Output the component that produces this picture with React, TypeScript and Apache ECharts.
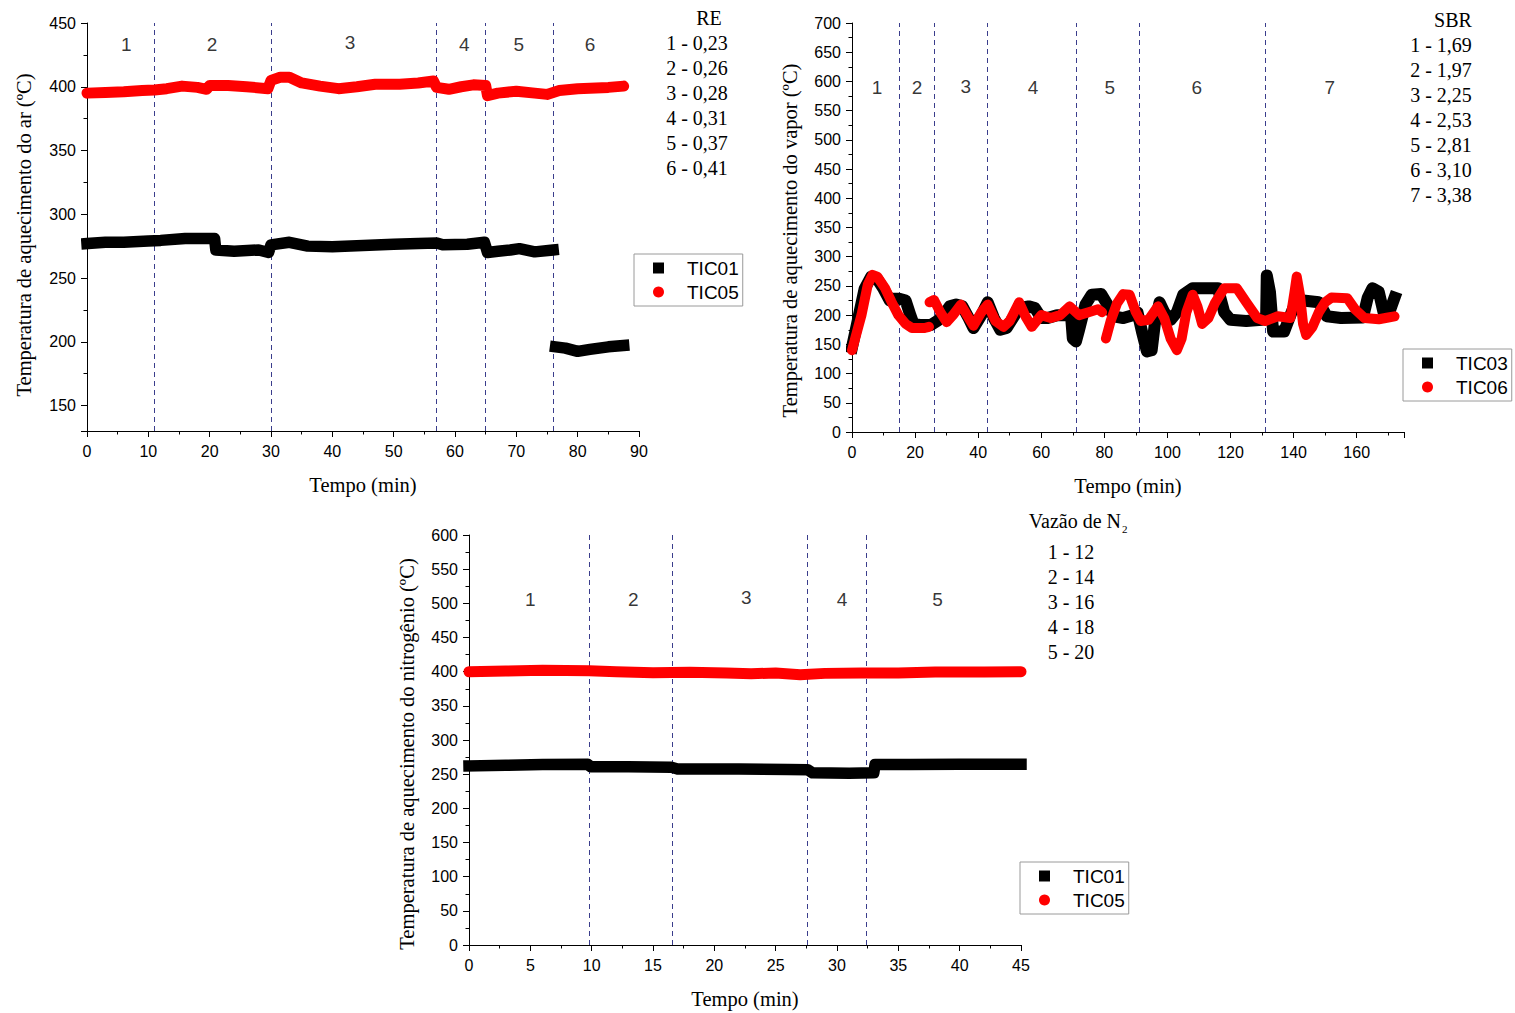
import React, { useEffect, useRef } from 'react';
import * as echarts from 'echarts';

// ---------- Chart 1: Temperatura de aquecimento do ar ----------
const arTIC01: [number, number | null][] = [
  [0, 277], [3, 278], [6, 278], [10, 279], [12, 279.5], [16, 281], [20.8, 281], [21, 272], [24, 271],
  [28, 272], [29.6, 270], [30, 276], [33, 278], [36, 275], [40, 274.5], [45, 275.5], [50, 276.5],
  [54, 277], [57, 277.5], [58, 276], [62, 276.5], [64.8, 278], [65.3, 270], [67, 271], [69, 272],
  [70.5, 273], [73, 270.5], [76, 272], [76.2, null], [76.4, 196], [78, 195], [80, 192.5], [82, 194],
  [85, 196], [87.5, 197],
];
const arTIC05: [number, number][] = [
  [0, 395], [3, 395.5], [6, 396], [9, 397], [11, 397.5], [13, 398.5], [15.5, 400.5], [18, 399.5],
  [19.5, 398], [20, 401], [23, 401], [26, 400], [29.5, 398.5], [30, 405], [31.5, 407.5], [33, 407.5],
  [35, 403], [38, 400.5], [41, 398.5], [44, 400], [47, 402], [51, 402], [54, 403], [56.5, 404.5],
  [57, 399.5], [59, 398], [61, 400], [63, 401.5], [65, 401], [65.3, 393], [67, 395], [70, 396.5],
  [73, 395], [75, 394], [77, 397], [80, 398.5], [83, 399], [85, 399.5], [87.5, 400.5],
];
const arDividers = [11, 30, 57, 65, 76];
const arSections: [number, number, string][] = [
  [6.4, 433, '1'], [20.4, 433, '2'], [42.9, 435, '3'], [61.5, 433, '4'], [70.4, 433, '5'], [82, 433, '6'],
];
const reTitle = 'RE';
const reLabels = ['1 - 0,23', '2 - 0,26', '3 - 0,28', '4 - 0,31', '5 - 0,37', '6 - 0,41'];

// ---------- Chart 2: Temperatura de aquecimento do vapor ----------
const vaporTIC03: [number, number][] = [
  [0, 145], [2, 195], [4, 245], [6, 265], [8, 262], [10, 245], [12, 225], [13, 228], [15, 228],
  [17, 225], [18.5, 200], [19.5, 185], [22, 183], [25, 183], [27, 190], [29, 200], [31, 215],
  [33, 218], [35, 215], [37, 195], [38.5, 178], [41, 200], [43, 222], [45, 195], [47, 175],
  [49, 178], [51, 195], [53, 212], [56, 215], [58, 212], [60, 195], [62, 195], [65, 200],
  [68, 200], [69.5, 195], [70, 160], [71, 155], [72, 175], [74, 218], [76, 235], [79, 236],
  [81, 218], [83, 198], [86, 195], [89, 200], [90.5, 205], [92, 170], [93.5, 138], [95, 140],
  [96, 185], [97.5, 222], [99, 205], [101, 192], [103, 205], [105, 235], [108, 246], [116, 246],
  [118, 205], [120, 192], [125, 190], [130, 192], [131.3, 200], [131.5, 268], [132.5, 240],
  [133.5, 172], [137, 172], [139, 200], [140.5, 220], [143, 225], [148, 222], [150.5, 198],
  [155, 195], [162, 196], [163.5, 230], [165, 246], [167, 240], [168.5, 205], [170, 200], [172, 230],
];
const vaporTIC06: [number, number | null][] = [
  [0, 140], [1, 160], [3, 200], [5, 252], [6.5, 269], [8, 266], [10.5, 246], [12.5, 223],
  [14.7, 200], [17, 185], [19, 178], [23, 178], [24.4, 180], [24.5, null], [24.6, 222], [26, 226],
  [28, 205], [30, 188], [32, 200], [34.5, 218], [37, 195], [38.5, 182], [41, 205], [43, 218],
  [45.5, 190], [48, 180], [50, 190], [53, 222], [55, 198], [57, 180], [60, 200], [63, 195],
  [66, 200], [69, 215], [72, 200], [75, 205], [78, 210], [79.3, 205], [80, null], [80.5, 160],
  [82, 190], [84, 220], [86, 236], [88, 235], [90, 205], [91.5, 190], [94, 192], [97, 215],
  [99, 195], [101, 160], [103, 140], [104.5, 160], [106, 205], [108, 235], [109.5, 215], [111, 185],
  [113, 195], [115, 220], [118, 246], [122, 246], [125, 222], [128.5, 195], [131, 190], [135, 198],
  [139, 195], [140.3, 240], [141, 266], [142, 235], [143, 185], [144, 166], [146, 180], [148, 205],
  [150, 222], [152, 230], [157, 229], [159.5, 210], [162.5, 195], [167, 193], [170, 196], [172, 198],
];
const vaporDividers = [15, 26, 43, 71, 91, 131];
const vaporSections: [number, number, string][] = [
  [7.9, 589, '1'], [20.6, 589, '2'], [36.1, 592, '3'], [57.4, 589, '4'], [81.7, 589, '5'],
  [109.3, 589, '6'], [151.5, 589, '7'],
];
const sbrTitle = 'SBR';
const sbrLabels = ['1 - 1,69', '2 - 1,97', '3 - 2,25', '4 - 2,53', '5 - 2,81', '6 - 3,10', '7 - 3,38'];

// ---------- Chart 3: Temperatura de aquecimento do nitrogênio ----------
const n2TIC01: [number, number][] = [
  [0, 262], [3, 263], [6, 264], [9.7, 264.5], [9.9, 261], [13, 261], [16.5, 260], [17, 257.5],
  [22, 257.5], [26, 257], [27.6, 256.5], [28, 252], [31, 251.5], [33, 252], [33.1, 264],
  [36, 264], [40, 264.5], [45, 264.5],
];
const n2TIC05: [number, number][] = [
  [0, 400], [3, 401], [6, 402], [9.8, 401.5], [12, 400], [15, 398.5], [18, 399], [21, 398],
  [23, 397], [25, 398], [27, 395.5], [29, 397.5], [32, 398], [35, 398], [38, 399.5], [42, 399.5],
  [45, 400],
];
const n2Dividers = [9.8, 16.6, 27.6, 32.4];
const n2Sections: [number, number, string][] = [
  [5, 505, '1'], [13.4, 505, '2'], [22.6, 509, '3'], [30.4, 505, '4'], [38.2, 505, '5'],
];
const n2Title = 'Vazão de N';
const n2Labels = ['1 - 12', '2 - 14', '3 - 16', '4 - 18', '5 - 20'];

const SANS = '"Liberation Sans", Arial, sans-serif';
const SERIF = '"Liberation Serif", "Times New Roman", serif';
const RED = '#ff0000';
const BLACK = '#000000';
const DASH = '#3a3d8c';
const NAME_SIZE = 20.5;
const LIST_SIZE = 20;

function xAxisCfg(gridIndex: number, min: number, max: number, step: number, hideAbove?: number) {
  return {
    type: 'value', gridIndex, min, max,
    ...(hideAbove == null ? { interval: step } : { minInterval: step, maxInterval: step }),
    name: 'Tempo (min)', nameLocation: 'middle', nameGap: 43,
    nameTextStyle: { fontFamily: SERIF, fontSize: NAME_SIZE, color: '#000' },
    axisLine: { show: true, lineStyle: { color: '#000', width: 1 } },
    axisTick: { show: true, length: 6, lineStyle: { color: '#000' } },
    minorTick: { show: true, splitNumber: 2, length: 3.5, lineStyle: { color: '#000' } },
    splitLine: { show: false },
    axisLabel: {
      fontFamily: SANS, fontSize: 16, color: '#000', margin: 12,
      formatter: (v: number) => (hideAbove != null && v > hideAbove ? '' : String(v)),
    },
  };
}

function yAxisCfg(gridIndex: number, min: number, max: number, name: string, gap: number, shift: number, clipBelow?: number) {
  return {
    type: 'value', gridIndex, min, max,
    ...(clipBelow == null ? { interval: 50 } : { minInterval: 50, maxInterval: 50 }),
    name, nameLocation: 'middle', nameGap: gap,
    nameTextStyle: { fontFamily: SERIF, fontSize: NAME_SIZE, color: '#000', padding: [0, shift * 2, 0, 0] },
    axisLine: { show: true, lineStyle: { color: '#000', width: 1 } },
    axisTick: { show: true, length: 6, lineStyle: { color: '#000' } },
    minorTick: { show: true, splitNumber: 2, length: 3.5, lineStyle: { color: '#000' } },
    splitLine: { show: false },
    axisLabel: {
      fontFamily: SANS, fontSize: 16, color: '#000', margin: 11,
      formatter: (v: number) => (clipBelow != null && v < clipBelow ? '' : String(v)),
    },
  };
}

function lineSeries(name: string, idx: number, data: any[], color: string, width: number, cap: string) {
  return {
    type: 'line', name, xAxisIndex: idx, yAxisIndex: idx, data,
    showSymbol: false, symbol: 'none', connectNulls: false, z: 3,
    itemStyle: { color },
    lineStyle: { color, width, cap, join: 'round' },
    silent: true,
  };
}

function sectionSeries(idx: number, data: [number, number, string][], dividers: number[]) {
  return {
    type: 'scatter', xAxisIndex: idx, yAxisIndex: idx, data,
    symbolSize: 1, itemStyle: { color: 'rgba(0,0,0,0)' }, z: 1, silent: true,
    label: {
      show: true, position: 'inside', color: '#000', fontFamily: SANS, fontSize: 19,
      formatter: (p: any) => p.value[2],
    },
    markLine: {
      silent: true, symbol: 'none', z: 1,
      label: { show: false },
      lineStyle: { type: [5, 4], color: DASH, width: 1 },
      data: dividers.map((x) => ({ xAxis: x })),
    },
  };
}

function legendCfg(left: number, top: number, a: string, b: string) {
  return {
    left, top, orient: 'vertical',
    data: [{ name: a, icon: 'rect' }, { name: b, icon: 'circle' }],
    itemWidth: 11, itemHeight: 11, itemGap: 4,
    padding: [4, 4, 4, 19],
    borderColor: '#9a9a9a', borderWidth: 1,
    selectedMode: false,
    textStyle: { fontFamily: SANS, fontSize: 19, color: '#000', lineHeight: 20, padding: [0, 0, 0, 18] },
  };
}

function textEl(x: number, y: number, text: string, size: number, align: string) {
  return {
    type: 'text', x, y,
    style: { text, fill: '#000', fontFamily: SERIF, fontSize: size, align, verticalAlign: 'middle' },
  };
}

function listTexts(title: string, titleX: number, titleY: number, labels: string[], x: number, y0: number) {
  return [textEl(titleX, titleY, title, LIST_SIZE, 'center'), ...labels.map((t, i) => textEl(x, y0 + i * 25, t, LIST_SIZE, 'center'))];
}

export default function App() {
  const ref = useRef<HTMLDivElement>(null);
  useEffect(() => {
    if (!ref.current) return;
    const chart = echarts.init(ref.current, null, { renderer: 'svg' });
    const option: any = {
      animation: false,
      backgroundColor: '#ffffff',
      grid: [
        { left: 87, top: 23, width: 552, height: 408, containLabel: false },
        { left: 852, top: 23, width: 552, height: 409, containLabel: false },
        { left: 469, top: 535, width: 552, height: 410, containLabel: false },
      ],
      xAxis: [
        xAxisCfg(0, 0, 90, 10),
        xAxisCfg(1, 0, 175, 20, 170),
        xAxisCfg(2, 0, 45, 5),
      ],
      yAxis: [
        yAxisCfg(0, 130, 450, 'Temperatura de aquecimento do ar (ºC)', 53, 8, 150),
        yAxisCfg(1, 0, 700, 'Temperatura de aquecimento do vapor (ºC)', 52, 13),
        yAxisCfg(2, 0, 600, 'Temperatura de aquecimento do nitrogênio (ºC)', 52, 14),
      ],
      legend: [
        legendCfg(634, 254, 'TIC01', 'TIC05'),
        legendCfg(1403, 349, 'TIC03', 'TIC06'),
        legendCfg(1020, 862, 'TIC01', 'TIC05'),
      ],
      series: [
        sectionSeries(0, arSections, arDividers),
        lineSeries('TIC01', 0, arTIC01, BLACK, 11.5, 'square'),
        lineSeries('TIC05', 0, arTIC05, RED, 11, 'round'),
        sectionSeries(1, vaporSections, vaporDividers),
        lineSeries('TIC03', 1, vaporTIC03, BLACK, 12, 'square'),
        lineSeries('TIC06', 1, vaporTIC06, RED, 10, 'round'),
        sectionSeries(2, n2Sections, n2Dividers),
        lineSeries('TIC01', 2, n2TIC01, BLACK, 11.5, 'square'),
        lineSeries('TIC05', 2, n2TIC05, RED, 11, 'round'),
      ],
      graphic: [
        ...listTexts(reTitle, 709, 18, reLabels, 697, 43),
        ...listTexts(sbrTitle, 1453, 20, sbrLabels, 1441, 45),
        textEl(1121, 521, n2Title, LIST_SIZE, 'right'),
        textEl(1122, 529, '2', 11, 'left'),
        ...n2Labels.map((t, i) => textEl(1071, 552 + i * 25, t, LIST_SIZE, 'center')),
      ],
    };
    chart.setOption(option);
    return () => chart.dispose();
  }, []);
  return (
    <div
      ref={ref}
      style={{ position: 'fixed', left: 0, top: 0, width: 1515, height: 1013, background: '#fff' }}
    />
  );
}
